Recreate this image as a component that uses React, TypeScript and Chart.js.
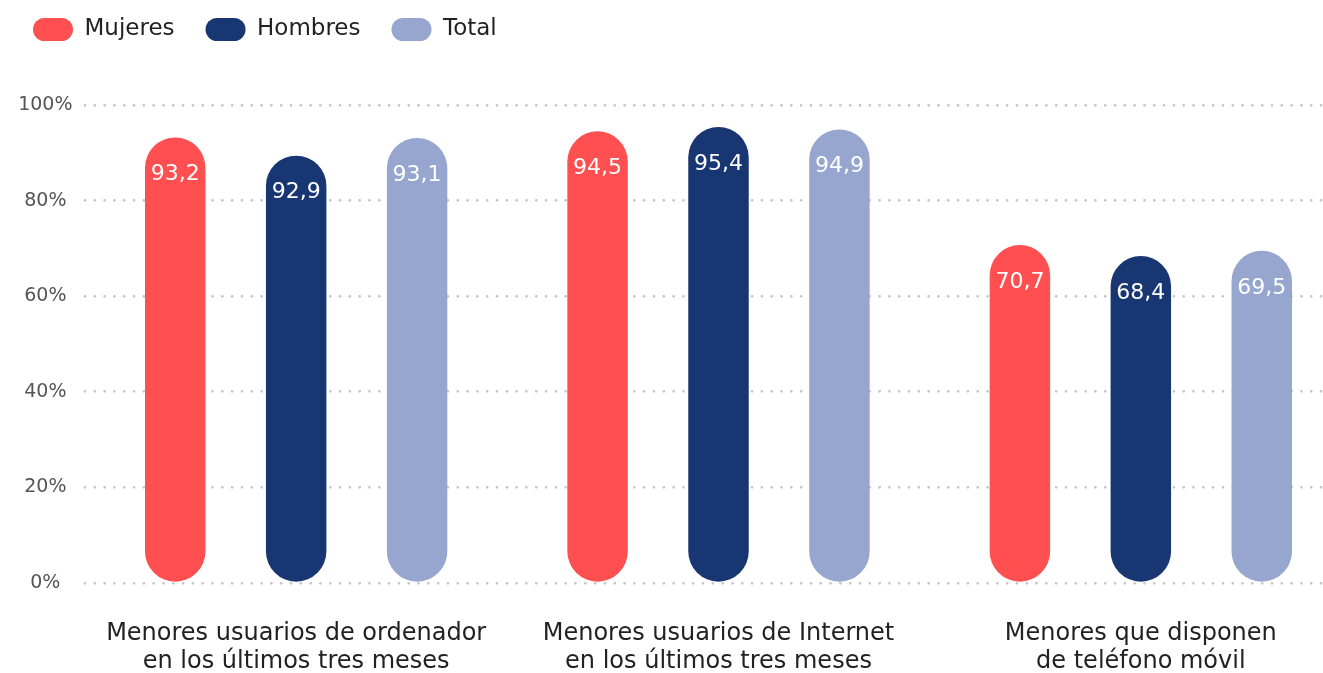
import React, { useEffect, useRef } from "react";
import { Chart, registerables } from "chart.js";

Chart.register(...registerables);

// ---- data ----
const categories: string[][] = [
  ["Menores usuarios de ordenador", "en los últimos tres meses"],
  ["Menores usuarios de Internet", "en los últimos tres meses"],
  ["Menores que disponen", "de teléfono móvil"],
];
const seriesNames = ["Mujeres", "Hombres", "Total"];
// bar heights as drawn in the picture
const mujeres = [93.2, 94.5, 70.7];
const hombres = [89.4, 95.4, 68.4];
const total = [93.1, 94.9, 69.5];
// value labels as printed in the picture
const mujeresLabels = ["93,2", "94,5", "70,7"];
const hombresLabels = ["92,9", "95,4", "68,4"];
const totalLabels = ["93,1", "94,9", "69,5"];
const yTicks = [0, 20, 40, 60, 80, 100];

const colors = ["#FF4F51", "#183671", "#96A6CE"];
const FONT = "'DejaVu Sans', 'Open Sans', sans-serif";

const valueLabelPlugin = {
  id: "valueLabels",
  afterDatasetsDraw(chart: any) {
    const ctx = chart.ctx;
    chart.data.datasets.forEach((ds: any, di: number) => {
      const meta = chart.getDatasetMeta(di);
      meta.data.forEach((bar: any, i: number) => {
        const text = ds.valueLabels[i];
        ctx.save();
        ctx.fillStyle = "#ffffff";
        ctx.font = `400 22px ${FONT}`;
        ctx.textAlign = "center";
        ctx.textBaseline = "middle";
        ctx.fillText(text, bar.x, bar.y + 37);
        ctx.restore();
      });
    });
  },
};

const roundCapPlugin = {
  id: "roundCap",
  beforeDraw(chart: any) {
    chart.ctx.lineCap = "round";
  },
};

const legendSpacerPlugin = {
  id: "legendSpacer",
  beforeInit(chart: any) {
    const legend = chart.legend;
    if (!legend) return;
    const origFit = legend.fit;
    legend.fit = function () {
      origFit.call(this);
      this.height += 54;
    };
  },
};

export default function App() {
  const ref = useRef<HTMLCanvasElement | null>(null);

  useEffect(() => {
    if (!ref.current) return;
    const chart = new Chart(ref.current, {
      type: "bar",
      data: {
        labels: categories,
        datasets: [
          { label: seriesNames[0], data: mujeres, valueLabels: mujeresLabels, backgroundColor: colors[0] } as any,
          { label: seriesNames[1], data: hombres, valueLabels: hombresLabels, backgroundColor: colors[1] } as any,
          { label: seriesNames[2], data: total, valueLabels: totalLabels, backgroundColor: colors[2] } as any,
        ].map((d: any) => ({
          ...d,
          borderWidth: 0,
          borderRadius: 40,
          borderSkipped: false,
          categoryPercentage: 0.859,
          barPercentage: 0.5,
        })),
      },
      options: {
        responsive: false,
        animation: false,
        layout: { padding: { left: 2, right: 8, top: 0, bottom: 0 } },
        plugins: {
          legend: {
            display: true,
            position: "top",
            align: "start",
            labels: {
              boxWidth: 40,
              boxHeight: 23,
              useBorderRadius: true,
              borderRadius: 11.5,
              padding: 31,
              color: "#222222",
              font: { family: FONT, size: 23, weight: "400" },
            },
          },
          tooltip: { enabled: false },
          title: { display: false },
        },
        scales: {
          x: {
            afterFit(scale: any) {
              scale.height = 100;
            },
            grid: { display: false, drawTicks: false },
            border: { display: false },
            ticks: {
              autoSkip: false,
              maxRotation: 0,
              minRotation: 0,
              padding: 37,
              color: "#222222",
              font: { family: FONT, size: 24, weight: "400", lineHeight: 1.15 },
            },
          },
          y: {
            min: 0,
            max: 100,
            afterBuildTicks(scale: any) {
              scale.ticks = yTicks.map((v) => ({ value: v }));
            },
            afterFit(scale: any) {
              scale.width = 83;
            },
            grid: {
              color: "#c4c4c4",
              lineWidth: 2.7,
              drawTicks: false,
            },
            border: { display: false, dash: [0.01, 9.8] },
            ticks: {
              crossAlign: "center",
              padding: 12.5,
              color: "#555555",
              font: { family: FONT, size: 19, weight: "400" },
              callback: (v: any) => `${v}%`,
            },
          },
        },
      } as any,
      plugins: [valueLabelPlugin, roundCapPlugin, legendSpacerPlugin],
    });
    return () => chart.destroy();
  }, []);

  return (
    <div style={{ position: "fixed", left: 0, top: 0, width: "100vw", height: "100vh", overflow: "hidden", background: "#fff" }}>
      <div style={{ position: "absolute", left: 0, top: -13 }}>
        <canvas ref={ref} width={1360} height={696} style={{ display: "block" }} />
      </div>
    </div>
  );
}
